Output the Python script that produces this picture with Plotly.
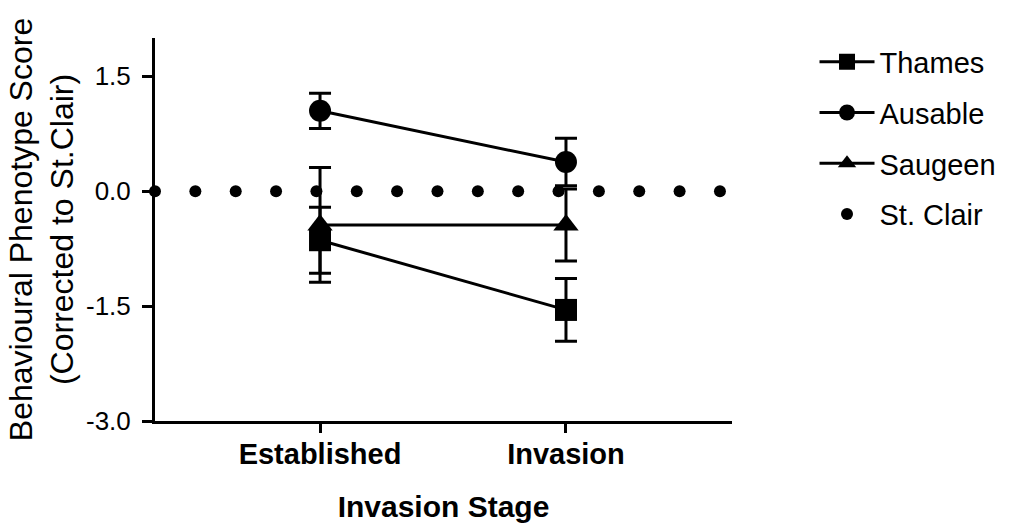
import numpy as np
import plotly.graph_objects as go

# Invasion stages (x categories)
stages = ["Established", "Invasion"]
stage_pos = [0, 1]

# Mean behavioural phenotype score (corrected to St. Clair) and SEM per river
thames_mean = [-0.64, -1.55]
thames_sem = [0.43, 0.41]
ausable_mean = [1.05, 0.38]
ausable_sem = [0.23, 0.31]
saugeen_mean = [-0.44, -0.44]
saugeen_sem = [0.75, 0.47]
st_clair_level = 0.0  # reference population

y_tickvals = [-3.0, -1.5, 0.0, 1.5]
y_ticktext = ["-3.0", "-1.5", "0.0", "1.5"]

FONT = "Liberation Sans"
X_RANGE = [-0.671, 1.675]
Y_RANGE = [-3.0, 2.0]

fig = go.Figure()

# St. Clair reference drawn as a row of round dots along y = 0
n_dots = 15
dot_x = np.linspace(X_RANGE[0], 1.626, n_dots)
fig.add_trace(go.Scatter(
    x=dot_x, y=np.full(n_dots, st_clair_level),
    mode="markers", name="St. Clair",
    marker=dict(symbol="circle", size=12, color="black"),
    cliponaxis=False, legendrank=4, legendgroup="d",
))

series = [
    ("Thames", thames_mean, thames_sem, "square", 1, "a"),
    ("Ausable", ausable_mean, ausable_sem, "circle", 2, "b"),
    ("Saugeen", saugeen_mean, saugeen_sem, "triangle-up", 3, "c"),
]
for name, mean, sem, sym, rank, grp in series:
    fig.add_trace(go.Scatter(
        x=stage_pos, y=mean, name=name,
        mode="lines+markers",
        line=dict(color="black", width=3),
        marker=dict(symbol=sym, size=22, color="black"),
        error_y=dict(type="data", array=sem, visible=True,
                     color="black", thickness=3, width=11),
        cliponaxis=False, legendrank=rank, legendgroup=grp,
    ))

fig.update_layout(
    width=1013, height=531,
    margin=dict(l=155, r=281, t=38, b=110),
    paper_bgcolor="white", plot_bgcolor="white",
    font=dict(family=FONT, color="black"),
    showlegend=True,
    legend=dict(
        x=1.143, y=1.004, xanchor="left", yanchor="top",
        font=dict(family=FONT, size=29, color="black"),
        itemwidth=55, tracegroupgap=10,
        bgcolor="rgba(0,0,0,0)",
    ),
    xaxis=dict(
        range=X_RANGE, tickvals=stage_pos, ticktext=stages,
        automargin=False,
        showgrid=False, zeroline=False,
        showline=True, linecolor="black", linewidth=3,
        ticks="outside", ticklen=9, tickwidth=3, tickcolor="black",
        tickfont=dict(family=FONT, size=29, weight="bold", color="black"),
        ticklabelstandoff=-4,
        title=dict(text="Invasion Stage", standoff=28,
                   font=dict(family=FONT, size=30, weight="bold", color="black")),
    ),
    yaxis=dict(
        range=Y_RANGE, tickvals=y_tickvals, ticktext=y_ticktext,
        automargin=False,
        showgrid=False, zeroline=False,
        showline=True, linecolor="black", linewidth=3,
        ticks="outside", ticklen=10, tickwidth=3, tickcolor="black",
        tickfont=dict(family=FONT, size=26, color="black"),
        ticklabelstandoff=6,
        title=dict(text="Behavioural Phenotype Score<br>(Corrected to St.Clair)",
                   standoff=3,
                   font=dict(family=FONT, size=32, color="black")),
    ),
)

fig.write_html("out.html")
